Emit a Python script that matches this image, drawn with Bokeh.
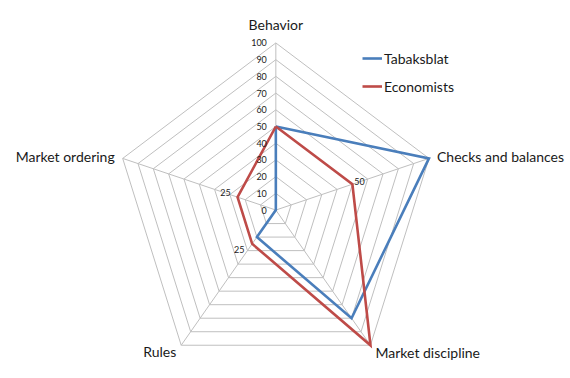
import numpy as np
from bokeh.plotting import figure
from bokeh.models import ColumnDataSource, Legend, LegendItem, Range1d
from bokeh.embed import file_html
from bokeh.resources import INLINE
from bokeh.core.properties import value

categories = ["Behavior", "Checks and balances", "Market discipline", "Rules", "Market ordering"]
tabaksblat = [50, 100, 80, 20, 0]
economists = [50, 50, 100, 25, 25]
econ_labels = ["", "50", "", "25", "25"]
tick_values = [0, 10, 20, 30, 40, 50, 60, 70, 80, 90, 100]
tick_labels = [str(t) for t in tick_values]

FONT = "Lato"
BLUE = "#4A7EBB"
RED = "#BE4B48"
GRID = "#BFBFBF"
TXT = "#1a1a1a"

n = len(categories)
ang = np.deg2rad(90 - 72 * np.arange(n))
cs, sn = np.cos(ang), np.sin(ang)

def poly(vals):
    v = np.asarray(vals, dtype=float)
    xs = list(v * cs) + [v[0] * cs[0]]
    ys = list(v * sn) + [v[0] * sn[0]]
    return xs, ys

p = figure(width=570, height=378, output_backend="svg", toolbar_location=None,
           x_range=Range1d(-171.0, 183.0), y_range=Range1d(-100.8, 125.4),
           min_border=0, outline_line_color=None)
p.axis.visible = False
p.grid.visible = False

# grid pentagons
gx, gy = [], []
for t in tick_values[1:]:
    xs, ys = poly([t] * n)
    gx.append(xs); gy.append(ys)
p.multi_line(gx, gy, line_color=GRID, line_width=1)
# spokes
p.multi_line([[0, 100 * c] for c in cs], [[0, 100 * s] for s in sn], line_color=GRID, line_width=1)

# series
tx, ty = poly(tabaksblat)
ex, ey = poly(economists)
r_t = p.line(tx, ty, line_color=BLUE, line_width=2.6, line_join="miter")
r_e = p.line(ex, ey, line_color=RED, line_width=2.6, line_join="miter")

# tick labels along Behavior axis
p.text(x=[0] * len(tick_values), y=tick_values, text=tick_labels, x_offset=-9,
       text_align="right", text_baseline="middle", text_font=value(FONT),
       text_font_size="9px", text_color=TXT)

# data labels for Economists
ev = np.asarray(economists, dtype=float)
lbl_dx = [0, 7, 0, -13, -12]
lbl_dy = [0, -3, 0, 6, -5]
dl = ColumnDataSource(dict(x=ev * cs, y=ev * sn, t=econ_labels, dx=lbl_dx, dy=lbl_dy))
p.text(x="x", y="y", text="t", x_offset="dx", y_offset="dy", source=dl,
       text_align="center", text_baseline="middle", text_font=value(FONT),
       text_font_size="9px", text_color=TXT)

# category labels
cat_src = ColumnDataSource(dict(
    x=100 * cs, y=100 * sn, t=categories,
    dx=[0, 8, 5, -5, -8], dy=[-18, -2, 7, 6, -2],
    al=["center", "left", "left", "right", "right"]))
p.text(x="x", y="y", text="t", x_offset="dx", y_offset="dy", text_align="al",
       text_baseline="middle", source=cat_src, text_font=value(FONT),
       text_font_size="14px", text_color=TXT)

legend = Legend(items=[LegendItem(label="Tabaksblat", renderers=[r_t]),
                       LegendItem(label="Economists", renderers=[r_e])],
                location=(362, 282), glyph_width=20, glyph_height=20,
                label_height=20, spacing=8, padding=0, margin=0, label_standoff=2,
                border_line_color=None, background_fill_alpha=0,
                label_text_font=FONT, label_text_font_size="14px",
                label_text_color=TXT)
p.add_layout(legend)

open("out.html", "w").write(file_html(p, INLINE))
